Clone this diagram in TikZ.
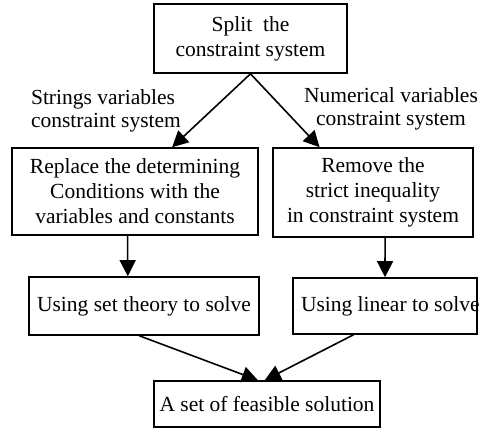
\documentclass[tikz,border=0pt]{standalone}
\usepackage{fontspec}
\setmainfont{Liberation Serif}
\usetikzlibrary{arrows.meta,calc}
\begin{document}
\begin{tikzpicture}[x=1pt,y=-1pt,
  box/.style={draw,line width=1.6pt,inner sep=0pt,align=center,font=\fontsize{21.5}{25}\selectfont},
  lbl/.style={inner sep=0pt,font=\fontsize{21.5}{23.5}\selectfont},
  arr/.style={line width=1.6pt,-{Triangle[length=16pt,width=16pt]}}]
\useasboundingbox (0,0) rectangle (480,432);
\node[box,minimum width=193pt,minimum height=69pt] (top) at (250.5,38.5) {\raisebox{-2pt}{Split\ \ the}\\[0pt]\raisebox{-2pt}{constraint system}};
\node[box,minimum width=246pt,minimum height=87pt] (left) at (135,191.5) {Replace the determining\\Conditions with the\\variables and constants};
\node[box,minimum width=200pt,minimum height=89pt] (right) at (373,192.5) {Remove the\\strict inequality\\in constraint system};
\node[box,minimum width=230pt,minimum height=58pt] (set) at (144,306) {Using set theory to solve};
\node[box,minimum width=184pt,minimum height=56pt] (lin) at (385,306) {\makebox[184pt][l]{\hspace*{8pt}Using linear to solve}};
\node[box,minimum width=226pt,minimum height=46pt] (fin) at (267,404) {A set of feasible solution};
\node[lbl,align=left] (l1) at (106,111) {Strings variables\\constraint system};
\node[lbl,align=center] (l2) at (391,109) {Numerical variables\\constraint system};
\draw[arr] (top.south) -- ($(left.north west)!0.65!(left.north east)$);
\draw[arr] (top.south) -- ($(right.north west)!0.235!(right.north east)$);
\draw[arr] ($(left.south west)!0.47!(left.south east)$) -- ($(set.north west)!0.43!(set.north east)$);
\draw[arr] ($(right.south west)!0.56!(right.south east)$) -- ($(lin.north west)!0.5!(lin.north east)$);
\draw[arr] ($(set.south west)!0.48!(set.south east)$) -- ($(fin.north west)!0.46!(fin.north east)$);
\draw[arr] ($(lin.south west)!0.33!(lin.south east)$) -- ($(fin.north west)!0.49!(fin.north east)$);
\end{tikzpicture}
\end{document}
